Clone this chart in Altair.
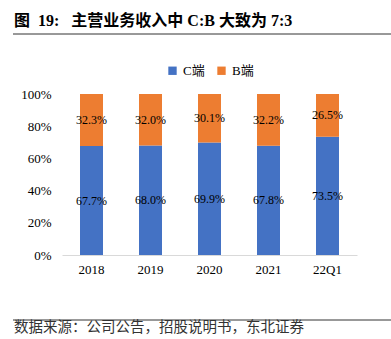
import altair as alt
import pandas as pd

categories = ["2018", "2019", "2020", "2021", "22Q1"]
c_share = [67.7, 68.0, 69.9, 67.8, 73.5]
b_share = [32.3, 32.0, 30.1, 32.2, 26.5]
series = ["C端", "B端"]
colors = ["#4472C4", "#ED7D31"]
title_text = "图\u00a0\u00a019:\u00a0\u00a0\u00a0主营业务收入中 C:B 大致为 7:3"
source_text = "数据来源：公司公告，招股说明书，东北证券"

rows = []
for i, cat in enumerate(categories):
    c, b = c_share[i] / 100, b_share[i] / 100
    rows.append({"cat": cat, "series": series[0], "order": 0, "v": c, "mid": c / 2,
                 "label": f"{c_share[i]:.1f}%"})
    rows.append({"cat": cat, "series": series[1], "order": 1, "v": b, "mid": c + b / 2,
                 "label": f"{b_share[i]:.1f}%"})
df = pd.DataFrame(rows)

FONT = "Liberation Serif, Noto Sans CJK SC"

x_axis = alt.Axis(labelAngle=0, ticks=False, domainColor="#d9d9d9",
                  labelFont=FONT, labelFontSize=13, labelColor="#000000",
                  labelPadding=8)
y_axis = alt.Axis(format=".0%", values=[0, 0.2, 0.4, 0.6, 0.8, 1.0],
                  grid=False, domain=False, ticks=False, labelOverlap=False,
                  labelFont=FONT, labelFontSize=13, labelColor="#000000",
                  labelPadding=11)
x_scale = alt.Scale(paddingInner=0.6, paddingOuter=0.3)
y_scale = alt.Scale(domain=[0, 1])

base = alt.Chart(df)

bars = base.mark_bar(size=23).encode(
    x=alt.X("cat:N", sort=categories, title=None, scale=x_scale, axis=x_axis),
    y=alt.Y("v:Q", stack="zero", title=None, scale=y_scale, axis=y_axis),
    color=alt.Color("series:N", scale=alt.Scale(domain=series, range=colors),
                    sort=series,
                    legend=alt.Legend(title=None, orient="none", direction="horizontal",
                                      legendX=104, legendY=-30, symbolType="square",
                                      symbolSize=70, symbolStrokeWidth=0,
                                      labelFont=FONT, labelFontSize=13,
                                      labelColor="#000000", columnPadding=10,
                                      symbolOpacity=1)),
    order=alt.Order("order:Q"),
)

labels = base.mark_text(font=FONT, fontSize=12, color="#000000").encode(
    x=alt.X("cat:N", sort=categories, title=None, scale=x_scale, axis=x_axis),
    y=alt.Y("mid:Q", title=None, scale=y_scale, axis=y_axis),
    text="label:N",
)

title = alt.Chart(pd.DataFrame({"t": [title_text]})).mark_text(
    font=FONT, fontSize=16, fontWeight="bold", align="left", baseline="middle",
    color="#000000").encode(x=alt.value(-48), y=alt.value(-73), text="t:N")

source = alt.Chart(pd.DataFrame({"t": [source_text]})).mark_text(
    font=FONT, fontSize=14.5, align="left", baseline="middle",
    color="#333333").encode(x=alt.value(-48), y=alt.value(234), text="t:N")

top_line = alt.Chart(pd.DataFrame({"a": [0]})).mark_rule(
    color="#333333", strokeWidth=1).encode(
    x=alt.value(-49), x2=alt.value(329), y=alt.value(-60))

bottom_line = alt.Chart(pd.DataFrame({"a": [0]})).mark_rule(
    color="#333333", strokeWidth=1).encode(
    x=alt.value(-49), x2=alt.value(329), y=alt.value(226))

chart = alt.layer(bars, labels, title, source, top_line, bottom_line).properties(
    width=295, height=161,
    autosize=alt.AutoSizeParams(type="none"),
    padding={"left": 62, "top": 94, "right": 34, "bottom": 84},
    background="white",
).configure_view(stroke=None).configure_axis(labelOverlap=False)

chart.save("out.html", embed_options={"renderer": "svg", "actions": False})
